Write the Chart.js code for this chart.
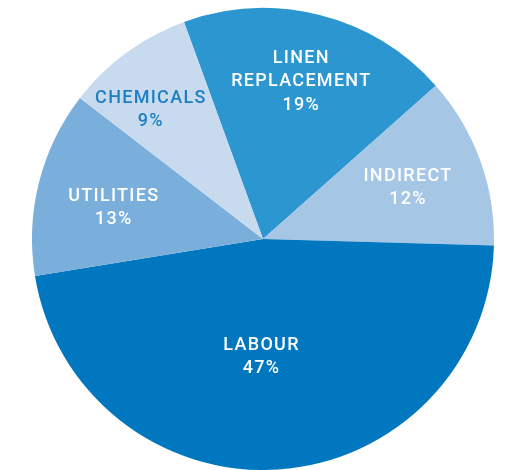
<!DOCTYPE html>
<html lang="en">
<head>
    <meta charset="UTF-8">
    <title>Cost breakdown</title>
    <script src="https://cdn.jsdelivr.net/npm/chart.js"></script>
    <style>
        html, body { margin: 0; padding: 0; background: #fff; }
        .box { width: 506px; height: 470px; }
    </style>
</head>
<body>
    <div class="box">
        <canvas id="myChart" width="506" height="470"></canvas>
    </div>
<script>
    // dados
    const categorias = [['LINEN', 'REPLACEMENT'], ['INDIRECT'], ['LABOUR'], ['UTILITIES'], ['CHEMICALS']];
    const valores = [19, 12, 47, 13, 9];
    const cores = ['#2b96cf', '#a6c6e5', '#0077bf', '#7bafdb', '#c8dbee'];
    const coresTexto = ['#ffffff', '#ffffff', '#ffffff', '#ffffff', '#1c7fc2'];
    // onde fica o rotulo: fracao do raio e ajuste de angulo (graus)
    const distLabel = [0.70, 0.665, 0.51, 0.66, 0.74];
    const ajusteAng = [-0.5, 0.7, 4.5, -2.4, -4.8];

    // plugin que escreve os rotulos dentro das fatias
    const rotulos = {
        id: 'rotulos',
        afterDatasetsDraw(chart) {
            const ctx = chart.ctx;
            const meta = chart.getDatasetMeta(0);
            ctx.save();
            ctx.font = '500 18px "Roboto", sans-serif';
            ctx.letterSpacing = '1.3px';
            ctx.textAlign = 'center';
            ctx.textBaseline = 'middle';
            meta.data.forEach(function (arc, i) {
                const meio = (arc.startAngle + arc.endAngle) / 2 + ajusteAng[i] * Math.PI / 180;
                const r = arc.outerRadius * distLabel[i];
                const x = arc.x + Math.cos(meio) * r;
                const y = arc.y + Math.sin(meio) * r;
                const linhas = categorias[i].concat([valores[i] + '%']);
                const alt = 23.5;
                const y0 = y - (linhas.length - 1) * alt / 2;
                ctx.fillStyle = coresTexto[i];
                linhas.forEach(function (t, j) {
                    ctx.fillText(t, x, y0 + j * alt);
                });
            });
            ctx.restore();
        }
    };

    let myChart = new Chart(document.getElementById('myChart'), {
        type: 'pie',
        data: {
            labels: categorias.map(c => c.join(' ')),
            datasets: [{
                data: valores,
                backgroundColor: cores,
                borderWidth: 0
            }]
        },
        options: {
            responsive: false,
            animation: false,
            rotation: -20,
            layout: { padding: { left: 20, top: 8, right: 0, bottom: 0 } },
            plugins: {
                legend: { display: false },
                tooltip: { enabled: false }
            }
        },
        plugins: [rotulos]
    });
</script>
</body>
</html>
